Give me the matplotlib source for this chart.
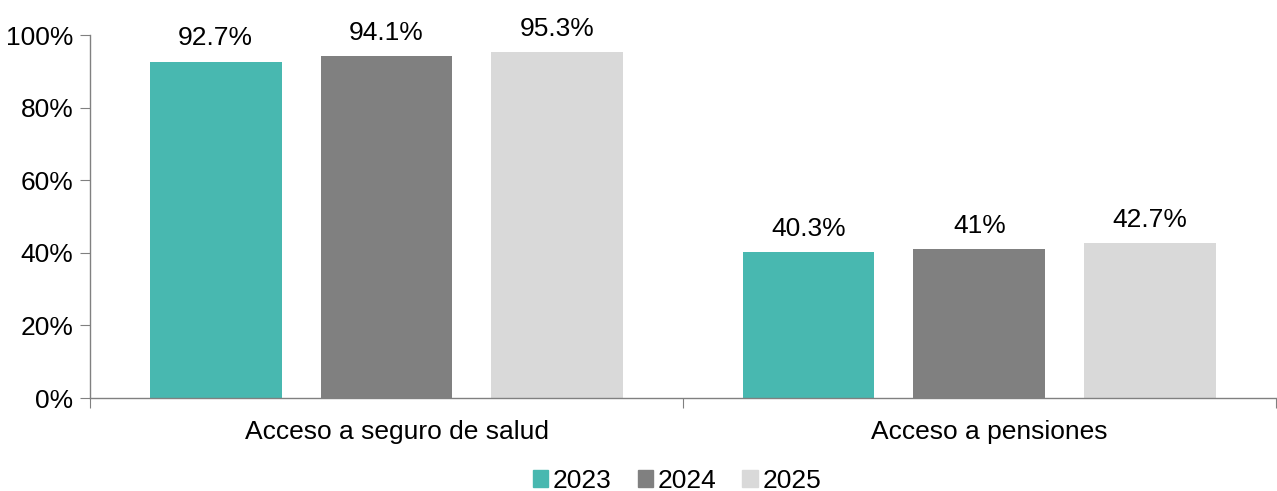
import matplotlib.pyplot as plt
import matplotlib.patches as mpatches
import numpy as np

plt.rcParams["font.family"] = ["Liberation Sans", "DejaVu Sans"]

# ========= data =========
categories = ["Acceso a seguro de salud", "Acceso a pensiones"]
years = ["2023", "2024", "2025"]
v2023 = [92.7, 40.3]
v2024 = [94.1, 41.0]
v2025 = [95.3, 42.7]
colors = ["#48B8B0", "#808080", "#D9D9D9"]

series = [v2023, v2024, v2025]
fs = 19

fig = plt.figure(figsize=(12.77, 4.91), dpi=100)
ax = fig.add_axes([0.0705, 0.1894, 0.9285, 0.7393])

centers = np.arange(len(categories)) + 0.5
step = 0.288
width = 0.222
for i, (vals, col) in enumerate(zip(series, colors)):
    xs = centers + (i - 1) * step
    ax.bar(xs, vals, width=width, color=col, zorder=2)
    for x, v in zip(xs, vals):
        ax.annotate(f"{v:g}%", (x, v), xytext=(0, 8), textcoords="offset points",
                    ha="center", va="bottom", fontsize=fs, color="#000000")

ax.set_xlim(0, len(categories))
ax.set_ylim(0, 100)
ax.set_yticks(np.arange(0, 101, 20))
ax.set_yticklabels([f"{t}%" for t in range(0, 101, 20)], fontsize=fs)
ax.set_xticks(np.arange(len(categories) + 1))
ax.set_xticklabels([])
# category labels sit a little right of the group centre, as in the original
ax.set_xticks(centers + 0.017, minor=True)
ax.set_xticklabels(categories, minor=True, fontsize=fs)
ax.tick_params(axis="x", which="minor", length=0, pad=16)
ax.tick_params(axis="x", which="major", length=7, color="#808080", direction="out")
ax.tick_params(axis="y", length=7, color="#808080", pad=5)

for s in ["top", "right"]:
    ax.spines[s].set_visible(False)
for s in ["left", "bottom"]:
    ax.spines[s].set_color("#808080")
    ax.spines[s].set_linewidth(1.0)

handles = [mpatches.Patch(color=c, label=y) for c, y in zip(colors, years)]
fig.legend(handles=handles, loc="center", bbox_to_anchor=(0.530, 0.02), ncol=3,
           frameon=False, fontsize=fs, handlelength=0.6, handleheight=0.6,
           handletextpad=0.15, columnspacing=1.0)

fig.savefig("out.png", dpi=100)
